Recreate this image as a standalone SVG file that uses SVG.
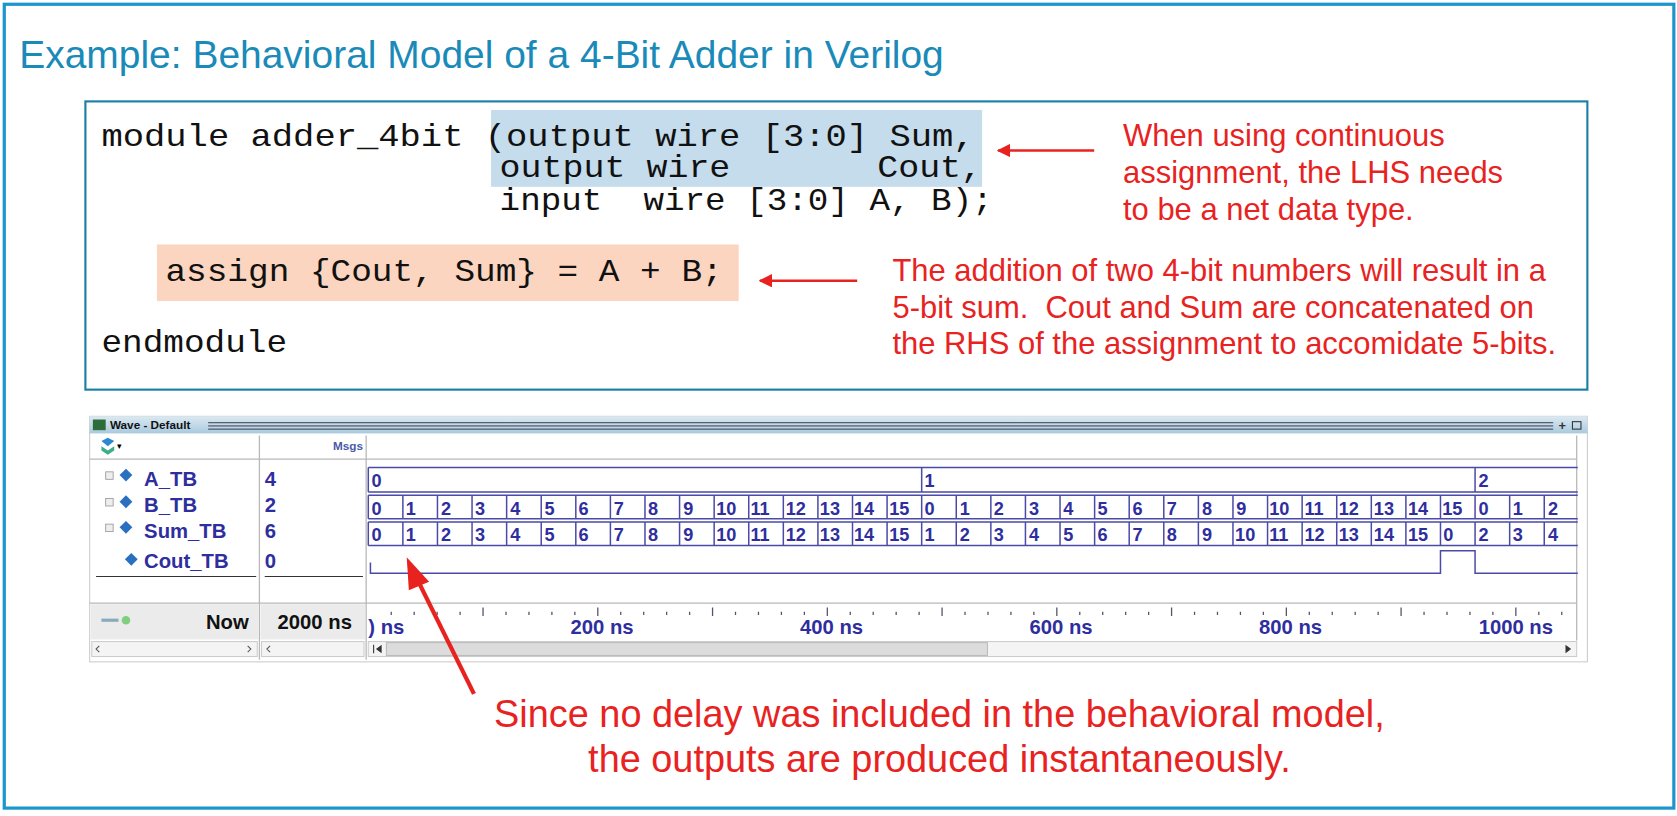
<svg xmlns="http://www.w3.org/2000/svg" width="1677" height="816" viewBox="0 0 1677 816">
<defs>
<style>
.code{font-family:"Liberation Mono","Courier New",monospace;font-size:29px;fill:#111}
.red{font-family:"Liberation Sans",Arial,sans-serif;font-size:29px;fill:#e8231f}
.big{font-family:"Liberation Sans",Arial,sans-serif;font-size:35.5px;fill:#e8231f;text-anchor:middle}
.sig{font-family:"Liberation Sans",Arial,sans-serif;font-size:19px;font-weight:bold;fill:#2e2e9e}
.wv{font-family:"Liberation Sans",Arial,sans-serif;font-size:17px;font-weight:bold;fill:#2e2e9e}
.ax{font-family:"Liberation Sans",Arial,sans-serif;font-size:19px;font-weight:bold;fill:#2e2e9e;text-anchor:middle}
.bus{fill:none;stroke:#4a4aa8;stroke-width:1.4}
.sep{stroke:#b8b8b8;stroke-width:1.2}
</style>
<marker id="ah" viewBox="0 0 10 10" refX="9" refY="5" markerWidth="5" markerHeight="5" orient="auto"><path d="M0,0 L10,5 L0,10 z" fill="#e8231f"/></marker>
<linearGradient id="tb" x1="0" y1="0" x2="0" y2="1"><stop offset="0" stop-color="#dbe9f2"/><stop offset="1" stop-color="#a9cade"/></linearGradient>
</defs>
<rect width="1677" height="816" fill="#fff"/>
<g transform="scale(1.0675)">
<rect x="4" y="4" width="1564" height="753" fill="none" stroke="#1a96cc" stroke-width="3"/>
<text x="18" y="64" font-family="'Liberation Sans',Arial,sans-serif" font-size="36.5" fill="#1a8ab8">Example: Behavioral Model of a 4-Bit Adder in Verilog</text>

<g id="code">
<rect x="80" y="95" width="1407" height="270" fill="#fff" stroke="#1a7fa8" stroke-width="2"/>
<rect x="460" y="103" width="460" height="72" fill="#c5dcec"/>
<rect x="147" y="229" width="545" height="53" fill="#fbd5c0"/>
<text class="code" x="95" y="137" xml:space="preserve" textLength="818" lengthAdjust="spacingAndGlyphs">module adder_4bit (output wire [3:0] Sum,</text>
<text class="code" x="468" y="166" xml:space="preserve" textLength="452" lengthAdjust="spacingAndGlyphs">output wire       Cout,</text>
<text class="code" x="468" y="197" xml:space="preserve" textLength="462" lengthAdjust="spacingAndGlyphs">input  wire [3:0] A, B);</text>
<text class="code" x="155" y="263" textLength="522" lengthAdjust="spacingAndGlyphs">assign {Cout, Sum} = A + B;</text>
<text class="code" x="95" y="330" textLength="174" lengthAdjust="spacingAndGlyphs">endmodule</text>
</g>

<g id="note1">
<text class="red" x="1052" y="137">When using continuous</text>
<text class="red" x="1052" y="171">assignment, the LHS needs</text>
<text class="red" x="1052" y="206">to be a net data type.</text>
</g>
<g id="note2">
<text class="red" x="836" y="263" xml:space="preserve">The addition of two 4-bit numbers will result in a</text>
<text class="red" x="836" y="298" xml:space="preserve">5-bit sum.  Cout and Sum are concatenated on</text>
<text class="red" x="836" y="332" xml:space="preserve">the RHS of the assignment to accomidate 5-bits.</text>
</g>

<g id="wave">
<rect x="84" y="390" width="1403" height="230" fill="#fff" stroke="#ccc"/>
<rect x="84" y="390" width="1403" height="16" fill="url(#tb)"/>
<rect x="87" y="393" width="12" height="10" fill="#2d6b3a"/>
<text x="103" y="402" font-family="'Liberation Sans',Arial,sans-serif" font-size="11" font-weight="bold" fill="#111">Wave - Default</text>
<path d="M195 396 H1455 M195 399 H1455 M195 402 H1455" stroke="#223" stroke-width="0.8"/>
<text x="1460" y="403" font-family="'Liberation Sans',Arial,sans-serif" font-size="12" font-weight="bold" fill="#333">+</text>
<rect x="1473" y="395" width="8" height="7" fill="none" stroke="#333"/>
<path d="M95 413 l6 -3 l6 3 l-6 5 z" fill="#2a8ad0"/><path d="M95 418 l6 4 l6 -4 v4 l-6 4 l-6 -4z" fill="#3cae8a"/>
<text x="110" y="421" font-size="8" font-family="'Liberation Sans',Arial,sans-serif">▾</text>
<text x="340" y="422" text-anchor="end" font-family="'Liberation Sans',Arial,sans-serif" font-size="11" font-weight="bold" fill="#4a5aa8">Msgs</text>
<line class="sep" x1="84" y1="430" x2="1477" y2="430"/>
<line class="sep" x1="243" y1="408" x2="243" y2="618"/>
<line class="sep" x1="343" y1="408" x2="343" y2="618"/>
<line class="sep" x1="84" y1="565" x2="1477" y2="565"/>
<line class="sep" x1="1477" y1="408" x2="1477" y2="600"/>

<g id="names">
<rect x="99" y="442" width="7" height="7" fill="#eee" stroke="#999" stroke-width="0.8"/><path d="M112 445 l6 -6 l6 6 l-6 6z" fill="#2a6fc0"/>
<rect x="99" y="467" width="7" height="7" fill="#eee" stroke="#999" stroke-width="0.8"/><path d="M112 470 l6 -6 l6 6 l-6 6z" fill="#2a6fc0"/>
<rect x="99" y="491" width="7" height="7" fill="#eee" stroke="#999" stroke-width="0.8"/><path d="M112 494 l6 -6 l6 6 l-6 6z" fill="#2a6fc0"/>
<path d="M117 524 l6 -6 l6 6 l-6 6z" fill="#2a6fc0"/>
<text class="sig" x="135" y="455">A_TB</text>
<text class="sig" x="135" y="480">B_TB</text>
<text class="sig" x="135" y="504">Sum_TB</text>
<text class="sig" x="135" y="532">Cout_TB</text>
<text class="sig" x="248" y="455">4</text>
<text class="sig" x="248" y="480">2</text>
<text class="sig" x="248" y="504">6</text>
<text class="sig" x="248" y="532">0</text>
<path d="M90 540 H240 M248 540 H340" stroke="#333" stroke-width="1"/>
</g>

<g id="waves">
<path class="bus" d="M345 438 H1478 M345 461 H1478 M345 438 V461 M863.4 438 V461 M1381.8 438 V461"/>
<path class="bus" d="M345 464 H1478 M345 486 H1478 M345 464 V486 M377.4 464 V486 M409.8 464 V486 M442.2 464 V486 M474.6 464 V486 M507 464 V486 M539.4 464 V486 M571.8 464 V486 M604.2 464 V486 M636.6 464 V486 M669 464 V486 M701.4 464 V486 M733.8 464 V486 M766.2 464 V486 M798.6 464 V486 M831 464 V486 M863.4 464 V486 M895.8 464 V486 M928.2 464 V486 M960.6 464 V486 M993 464 V486 M1025.4 464 V486 M1057.8 464 V486 M1090.2 464 V486 M1122.6 464 V486 M1155 464 V486 M1187.4 464 V486 M1219.8 464 V486 M1252.2 464 V486 M1284.6 464 V486 M1317 464 V486 M1349.4 464 V486 M1381.8 464 V486 M1414.2 464 V486 M1446.6 464 V486"/>
<path class="bus" d="M345 489 H1478 M345 511 H1478 M345 489 V511 M377.4 489 V511 M409.8 489 V511 M442.2 489 V511 M474.6 489 V511 M507 489 V511 M539.4 489 V511 M571.8 489 V511 M604.2 489 V511 M636.6 489 V511 M669 489 V511 M701.4 489 V511 M733.8 489 V511 M766.2 489 V511 M798.6 489 V511 M831 489 V511 M863.4 489 V511 M895.8 489 V511 M928.2 489 V511 M960.6 489 V511 M993 489 V511 M1025.4 489 V511 M1057.8 489 V511 M1090.2 489 V511 M1122.6 489 V511 M1155 489 V511 M1187.4 489 V511 M1219.8 489 V511 M1252.2 489 V511 M1284.6 489 V511 M1317 489 V511 M1349.4 489 V511 M1381.8 489 V511 M1414.2 489 V511 M1446.6 489 V511"/>
<path class="bus" d="M347 527 V537 H1349.4 V516 H1381.8 V537 H1478"/>
<text class="wv" x="348" y="456">0</text><text class="wv" x="866" y="456">1</text><text class="wv" x="1385" y="456">2</text>
<g class="wv">
<text x="348" y="482">0</text><text x="380" y="482">1</text><text x="413" y="482">2</text><text x="445" y="482">3</text><text x="478" y="482">4</text><text x="510" y="482">5</text><text x="542" y="482">6</text><text x="575" y="482">7</text><text x="607" y="482">8</text><text x="640" y="482">9</text><text x="671" y="482">10</text><text x="703" y="482">11</text><text x="736" y="482">12</text><text x="768" y="482">13</text><text x="800" y="482">14</text><text x="833" y="482">15</text><text x="866" y="482">0</text><text x="899" y="482">1</text><text x="931" y="482">2</text><text x="964" y="482">3</text><text x="996" y="482">4</text><text x="1028" y="482">5</text><text x="1061" y="482">6</text><text x="1093" y="482">7</text><text x="1126" y="482">8</text><text x="1158" y="482">9</text><text x="1189" y="482">10</text><text x="1222" y="482">11</text><text x="1254" y="482">12</text><text x="1287" y="482">13</text><text x="1319" y="482">14</text><text x="1351" y="482">15</text><text x="1385" y="482">0</text><text x="1417" y="482">1</text><text x="1450" y="482">2</text>
<text x="348" y="507">0</text><text x="380" y="507">1</text><text x="413" y="507">2</text><text x="445" y="507">3</text><text x="478" y="507">4</text><text x="510" y="507">5</text><text x="542" y="507">6</text><text x="575" y="507">7</text><text x="607" y="507">8</text><text x="640" y="507">9</text><text x="671" y="507">10</text><text x="703" y="507">11</text><text x="736" y="507">12</text><text x="768" y="507">13</text><text x="800" y="507">14</text><text x="833" y="507">15</text><text x="866" y="507">1</text><text x="899" y="507">2</text><text x="931" y="507">3</text><text x="964" y="507">4</text><text x="996" y="507">5</text><text x="1028" y="507">6</text><text x="1061" y="507">7</text><text x="1093" y="507">8</text><text x="1126" y="507">9</text><text x="1157" y="507">10</text><text x="1189" y="507">11</text><text x="1222" y="507">12</text><text x="1254" y="507">13</text><text x="1287" y="507">14</text><text x="1319" y="507">15</text><text x="1352" y="507">0</text><text x="1385" y="507">2</text><text x="1417" y="507">3</text><text x="1450" y="507">4</text>
</g>
</g>

<g id="axis">
<rect x="85" y="566" width="157" height="33" fill="#ebebeb"/>
<rect x="244" y="566" width="98" height="33" fill="#ebebeb"/>
<circle cx="118" cy="581" r="4" fill="#7fcf7f"/><path d="M95 581 h16" stroke="#8ab" stroke-width="3"/>
<text x="233" y="589" text-anchor="end" font-family="'Liberation Sans',Arial,sans-serif" font-size="19" font-weight="bold" fill="#111">Now</text>
<text x="260" y="589" font-family="'Liberation Sans',Arial,sans-serif" font-size="19" font-weight="bold" fill="#111">2000 ns</text>
<path d="M366.5 573 v3 M388 573 v3 M409.5 573 v3 M431 573 v3 M452.5 569 v8 M474 573 v3 M495.5 573 v3 M517 573 v3 M538.5 573 v3 M560 569 v8 M581.5 573 v3 M603 573 v3 M624.5 573 v3 M646 573 v3 M667.5 569 v8 M689 573 v3 M710.5 573 v3 M732 573 v3 M753.5 573 v3 M775 569 v8 M796.5 573 v3 M818 573 v3 M839.5 573 v3 M861 573 v3 M882.5 569 v8 M904 573 v3 M925.5 573 v3 M947 573 v3 M968.5 573 v3 M990 569 v8 M1011.5 573 v3 M1033 573 v3 M1054.5 573 v3 M1076 573 v3 M1097.5 569 v8 M1119 573 v3 M1140.5 573 v3 M1162 573 v3 M1183.5 573 v3 M1205 569 v8 M1226.5 573 v3 M1248 573 v3 M1269.5 573 v3 M1291 573 v3 M1312.5 569 v8 M1334 573 v3 M1355.5 573 v3 M1377 573 v3 M1398.5 573 v3 M1420 569 v8 M1441.5 573 v3 M1463 573 v3" stroke="#556" stroke-width="1.2"/>
<text x="345" y="594" font-family="'Liberation Sans',Arial,sans-serif" font-size="19" font-weight="bold" fill="#2e2e9e">) ns</text>
<text class="ax" x="564" y="594">200 ns</text>
<text class="ax" x="779" y="594">400 ns</text>
<text class="ax" x="994" y="594">600 ns</text>
<text class="ax" x="1209" y="594">800 ns</text>
<text class="ax" x="1420" y="594">1000 ns</text>
<rect x="86" y="601" width="155" height="14" fill="#f4f4f4" stroke="#ccc"/>
<rect x="245" y="601" width="96" height="14" fill="#f4f4f4" stroke="#ccc"/>
<rect x="345" y="601" width="1132" height="14" fill="#f4f4f4" stroke="#ccc"/>
<rect x="362" y="602" width="563" height="12" fill="#dcdcdc" stroke="#bbb"/>
<path d="M93 605 l-3 3 l3 3 M232 605 l3 3 l-3 3 M253 605 l-3 3 l3 3" fill="none" stroke="#555"/>
<path d="M350 604 v8 M357 605 l-4 3 l4 3z M1467 605 l4 3 l-4 3z" fill="#333" stroke="#333"/>
</g>
</g>

<g id="connectors">
<line x1="1025" y1="141" x2="935" y2="141" stroke="#e8231f" stroke-width="2.5" marker-end="url(#ah)"/>
<line x1="803" y1="263" x2="712" y2="263" stroke="#e8231f" stroke-width="2.5" marker-end="url(#ah)"/>
<line x1="444" y1="650" x2="393" y2="547" stroke="#e8231f" stroke-width="4"/>
<path d="M381 522 L402 545 L383 553 z" fill="#e8231f"/>
</g>

<g id="note3">
<text class="big" x="880" y="681">Since no delay was included in the behavioral model,</text>
<text class="big" x="880" y="723">the outputs are produced instantaneously.</text>
</g>
</g>
</svg>
